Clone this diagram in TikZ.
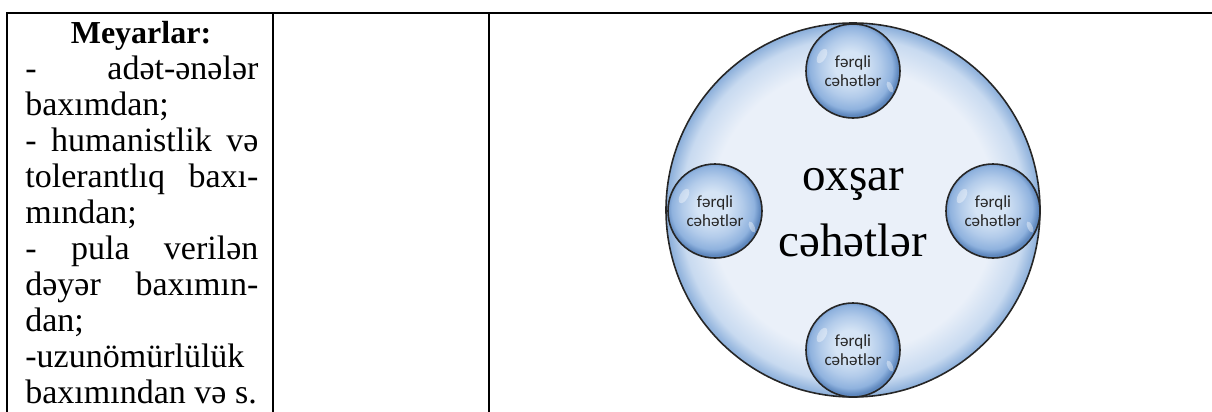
\documentclass[tikz,border=0pt]{standalone}
\usepackage{fontspec}
\setmainfont{Liberation Serif}
\newfontfamily\bubblefont{Carlito}
\definecolor{glassLight}{HTML}{EAF0F9}
\definecolor{glassRim}{HTML}{C8DAF0}
\definecolor{glassEdge}{HTML}{8AAEDA}
\definecolor{smallIn}{HTML}{D5E4F5}
\definecolor{smallMid}{HTML}{B2CBEA}
\definecolor{smallOut}{HTML}{8FB2DE}
\definecolor{smallEdge}{HTML}{5F88BE}
\pgfdeclareradialshading{BigGlass}{\pgfpoint{0bp}{0bp}}{color(0bp)=(glassLight); color(19bp)=(glassLight); color(23bp)=(glassRim); color(25bp)=(glassEdge); color(50bp)=(glassEdge)}
\pgfdeclareradialshading{SmallGlass}{\pgfpoint{-2bp}{3bp}}{color(0bp)=(smallIn); color(8bp)=(smallIn); color(16bp)=(smallMid); color(22bp)=(smallOut); color(25bp)=(smallEdge); color(50bp)=(smallEdge)}
\tikzset{
    rowtext/.style={anchor=base west, inner sep=0pt, font=\fontsize{17}{20}\selectfont},
    bigbubble/.style={circle, draw=black!85, line width=0.8pt, shading=BigGlass, minimum size=187pt, inner sep=0pt},
    smallbubble/.style={circle, draw=black!85, line width=0.8pt, shading=SmallGlass, minimum size=47pt, inner sep=0pt},
    bubbletext/.style={font=\bubblefont\fontsize{8.5}{9.5}\selectfont, text=black!85, align=center, inner sep=0pt},
    gleam/.style={fill=white, opacity=0.4},
}
\newcommand\RowText[3]{%
    \node[rowtext] (#1) at (25,{43+36*#2}) {#3};
}
\newcommand\RowJustified[3]{%
    \node[rowtext] (#1) at (25,{43+36*#2}) {\makebox[116.5pt][s]{#3}};
}
\newcommand\Bubble[2]{%
    \begin{scope}[shift={(#2)}]
        \node[smallbubble] (#1) at (0,0) {};
        \fill[gleam] (-31,-15) ellipse [x radius=4, y radius=8, rotate=-30];
        \fill[gleam] (37,16) ellipse [x radius=2.5, y radius=6, rotate=25];
        \node[bubbletext] (#1Text) at (0,0) {fərqli\\cəhətlər};
    \end{scope}
}

\begin{document}
\begin{tikzpicture}[x=0.5pt, y=-0.5pt]
    \useasboundingbox (0,0) rectangle (1212,412);
    % table rules
    \draw[line width=1pt] (7,412) -- (7,13) -- (1212,13);
    \draw[line width=1pt] (273,13) -- (273,412);
    \draw[line width=1pt] (489,13) -- (489,412);
    % criteria column
    \node[rowtext, anchor=base, font=\fontsize{16}{20}\selectfont\bfseries] (Criteria) at (141,43) {Meyarlar:};
    \RowJustified{RowA}{1}{- adət-ənələr}
    \RowText{RowB}{2}{baxımdan;}
    \RowJustified{RowC}{3}{- humanistlik və}
    \RowJustified{RowD}{4}{tolerantlıq baxı-}
    \RowText{RowE}{5}{mından;}
    \RowJustified{RowF}{6}{- pula verilən}
    \RowJustified{RowG}{7}{dəyər baxımın-}
    \RowText{RowH}{8}{dan;}
    \RowText{RowI}{9}{-uzunömürlülük}
    \RowText{RowJ}{10}{baxımından və s.}
    % bubbles
    \node[bigbubble] (Common) at (853,210) {};
    \node[font=\fontsize{23.5}{33}\selectfont, align=center] (CommonText) at (853,213) {oxşar\\cəhətlər};
    \Bubble{TopBubble}{853,71}
    \Bubble{LeftBubble}{715,211}
    \Bubble{RightBubble}{993,211}
    \Bubble{BottomBubble}{853,350}
\end{tikzpicture}
\end{document}
